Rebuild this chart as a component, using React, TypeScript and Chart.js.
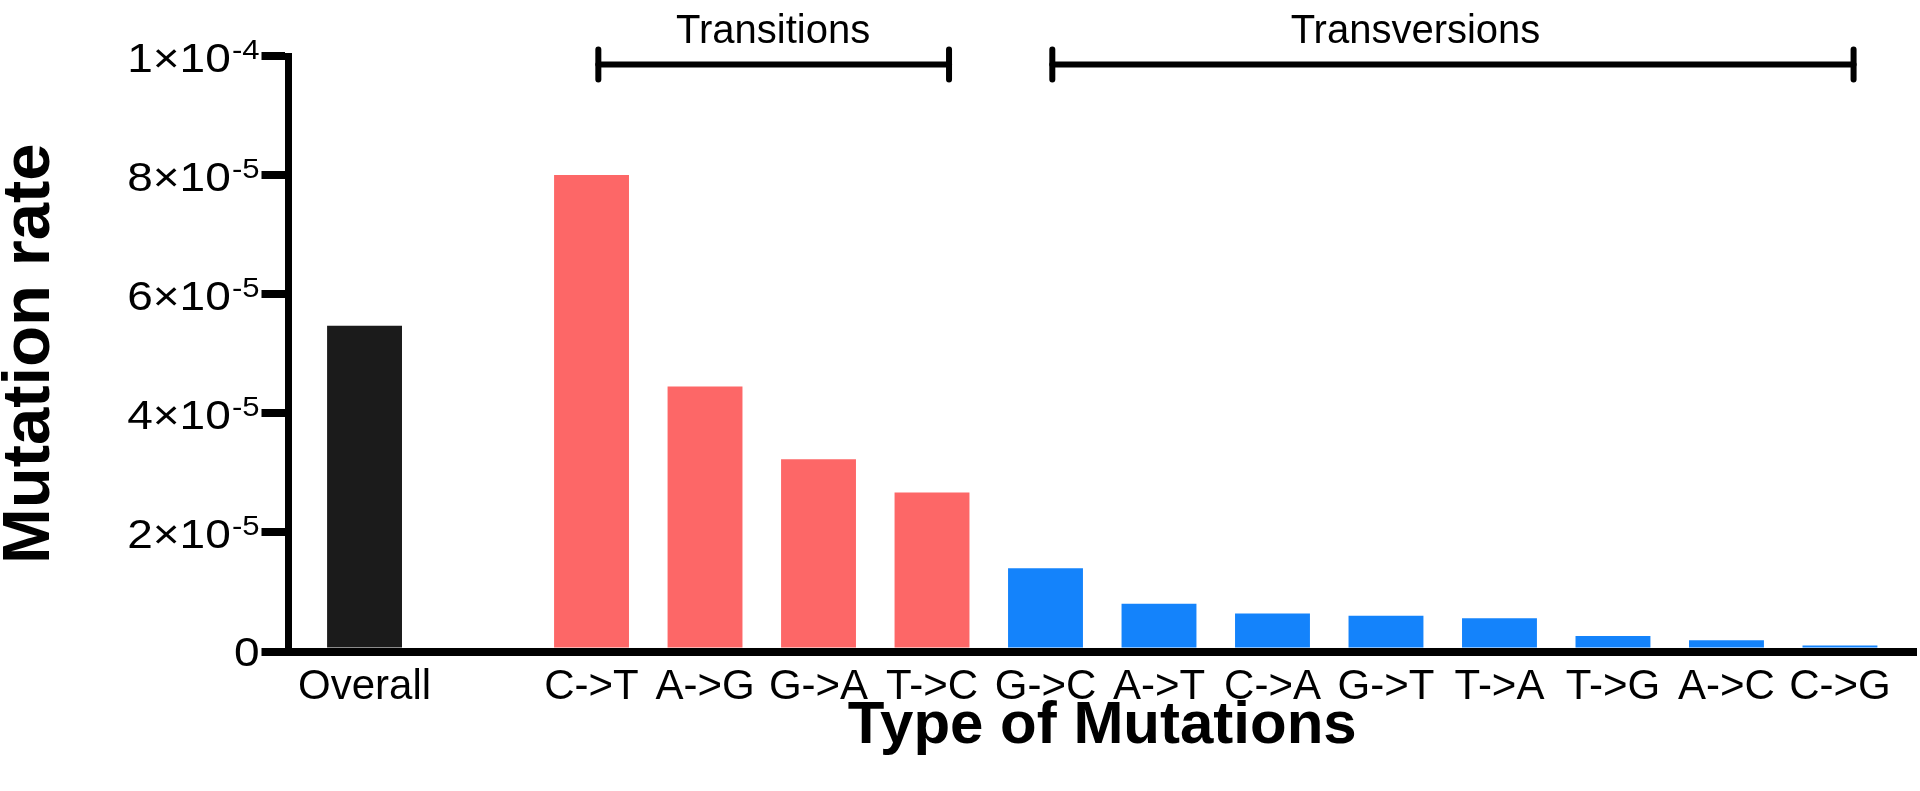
import React, { useEffect, useRef } from 'react';
import { Chart, registerables } from 'chart.js';

Chart.register(...registerables);

// ---- data ----
const categories = ['Overall', '', 'C->T', 'A->G', 'G->A', 'T->C', 'G->C', 'A->T', 'C->A', 'G->T', 'T->A', 'T->G', 'A->C', 'C->G'];
const mutationRates = [5.47e-5, null, 8.0e-5, 4.45e-5, 3.23e-5, 2.67e-5, 1.4e-5, 0.8e-5, 0.64e-5, 0.6e-5, 0.56e-5, 0.26e-5, 0.19e-5, 0.1e-5];
const barGroups = ['overall', 'none', 'transition', 'transition', 'transition', 'transition', 'transversion', 'transversion', 'transversion', 'transversion', 'transversion', 'transversion', 'transversion', 'transversion'];
const yTickValues = [0, 2e-5, 4e-5, 6e-5, 8e-5, 1e-4];
const bracketLabels = ['Transitions', 'Transversions'];
const bracketFrom = [2.06, 6.06];
const bracketTo = [5.15, 13.12];
const bracketLabelAt = [3.6, 9.26];

const groupColors: Record<string, string> = {
  overall: '#1b1b1b',
  transition: '#fd6767',
  transversion: '#1483fb',
  none: 'rgba(0,0,0,0)',
};

const FAMILY = '"Liberation Sans", Arial, Helvetica, sans-serif';

function sciParts(v: number): { base: string; exp: string } {
  if (v === 0) return { base: '0', exp: '' };
  const e = Math.floor(Math.log10(v) + 1e-9);
  const m = Math.round(v / Math.pow(10, e));
  return { base: `${m}\u00D710`, exp: String(e) };
}

function sciLabel(v: number): string {
  const p = sciParts(v);
  return p.exp ? `${p.base}^${p.exp}` : p.base;
}

// y tick labels with a true superscript exponent, placed from the y scale's own ticks
const yTickLabelPlugin = {
  id: 'yTickLabels',
  afterDraw(chart: any) {
    const ys = chart.scales.y;
    const ctx = chart.ctx;
    const right = ys.right - 27 - 2;
    const stretch = 1.15;
    ctx.save();
    ctx.fillStyle = '#000';
    ctx.textAlign = 'right';
    ctx.textBaseline = 'alphabetic';
    ys.ticks.forEach((t: any) => {
      const y = ys.getPixelForValue(t.value);
      const { base, exp } = sciParts(t.value);
      ctx.save();
      ctx.translate(right, y);
      ctx.scale(stretch, 1);
      if (exp) {
        ctx.font = `27px ${FAMILY}`;
        ctx.fillText(exp, 0, 3);
        const x = -ctx.measureText(exp).width - 1;
        ctx.font = `40px ${FAMILY}`;
        ctx.fillText(base, x, 16);
      } else {
        ctx.font = `40px ${FAMILY}`;
        ctx.fillText(base, 0, 14);
      }
      ctx.restore();
    });
    ctx.restore();
  },
};

const bracketPlugin = {
  id: 'groupBrackets',
  afterDraw(chart: any) {
    const xs = chart.scales.x;
    const top = chart.chartArea.top;
    const ctx = chart.ctx;
    ctx.save();
    ctx.strokeStyle = '#000';
    ctx.fillStyle = '#000';
    ctx.lineWidth = 6;
    ctx.lineCap = 'round';
    const yLine = top + 8.5;
    bracketLabels.forEach((label, i) => {
      const x1 = xs.getPixelForValue(bracketFrom[i]);
      const x2 = xs.getPixelForValue(bracketTo[i]);
      ctx.beginPath();
      ctx.moveTo(x1, yLine);
      ctx.lineTo(x2, yLine);
      ctx.stroke();
      ctx.beginPath();
      ctx.moveTo(x1, yLine - 15);
      ctx.lineTo(x1, yLine + 15);
      ctx.moveTo(x2, yLine - 15);
      ctx.lineTo(x2, yLine + 15);
      ctx.stroke();
      ctx.font = `40px ${FAMILY}`;
      ctx.textAlign = 'center';
      ctx.textBaseline = 'alphabetic';
      ctx.fillText(label, xs.getPixelForValue(bracketLabelAt[i]), top - 13);
    });
    ctx.restore();
  },
};

export default function App() {
  const canvasRef = useRef<HTMLCanvasElement | null>(null);

  useEffect(() => {
    document.body.style.margin = '0';
    const canvas = canvasRef.current;
    if (!canvas) return;
    const chart = new Chart(canvas, {
      type: 'bar',
      data: {
        datasets: [
          {
            data: categories.map((c, i) => ({ x: i, y: mutationRates[i] })) as any,
            backgroundColor: barGroups.map((g) => groupColors[g]),
            borderWidth: 0,
            categoryPercentage: 1,
            barPercentage: 0.66,
          },
        ],
      },
      options: {
        responsive: false,
        animation: false,
        devicePixelRatio: 1,
        layout: { padding: { top: 56, right: 4, left: 0, bottom: 0 } },
        plugins: { legend: { display: false }, tooltip: { enabled: false } },
        scales: {
          x: {
            type: 'linear',
            min: -0.67,
            max: 13.67,
            offset: false,
            grid: { display: false },
            border: { display: true, color: '#000', width: 8, z: 1 },
            afterBuildTicks: (s: any) => {
              s.ticks = categories.map((_, i) => ({ value: i }));
            },
            ticks: {
              callback: (v: any) => categories[v] ?? '',
              font: { family: FAMILY, size: 42 },
              color: '#000',
              padding: 3,
              autoSkip: false,
              maxRotation: 0,
              minRotation: 0,
            },
            title: {
              display: true,
              text: 'Type of Mutations',
              font: { family: FAMILY, size: 60, weight: 'bold', lineHeight: 1 },
              color: '#000',
              padding: { top: 0, bottom: 35 },
            },
            afterFit: (s: any) => {
              s.height = 139.5;
            },
          },
          y: {
            type: 'linear',
            min: 0,
            max: 1e-4,
            afterBuildTicks: (s: any) => {
              s.ticks = yTickValues.map((v) => ({ value: v }));
            },
            grid: {
              display: true,
              drawOnChartArea: false,
              drawTicks: true,
              tickLength: 27,
              tickWidth: 8,
              tickColor: '#000',
              color: '#000',
              lineWidth: 8,
            },
            border: { display: true, color: '#000', width: 7, z: 1 },
            ticks: {
              display: false,
              callback: (v: any) => sciLabel(Number(v)),
            },
            title: {
              display: true,
              text: 'Mutation rate',
              font: { family: FAMILY, size: 67, weight: 'bold', lineHeight: 0.9 },
              color: '#000',
              padding: { top: 0, bottom: 0 },
            },
            afterFit: (s: any) => {
              s.width = 288.5;
            },
          },
        },
      } as any,
      plugins: [yTickLabelPlugin, bracketPlugin],
    });
    return () => chart.destroy();
  }, []);

  return (
    <canvas
      ref={canvasRef}
      width={1920}
      height={791}
      style={{ display: 'block', width: '1920px', height: '791px' }}
    />
  );
}
